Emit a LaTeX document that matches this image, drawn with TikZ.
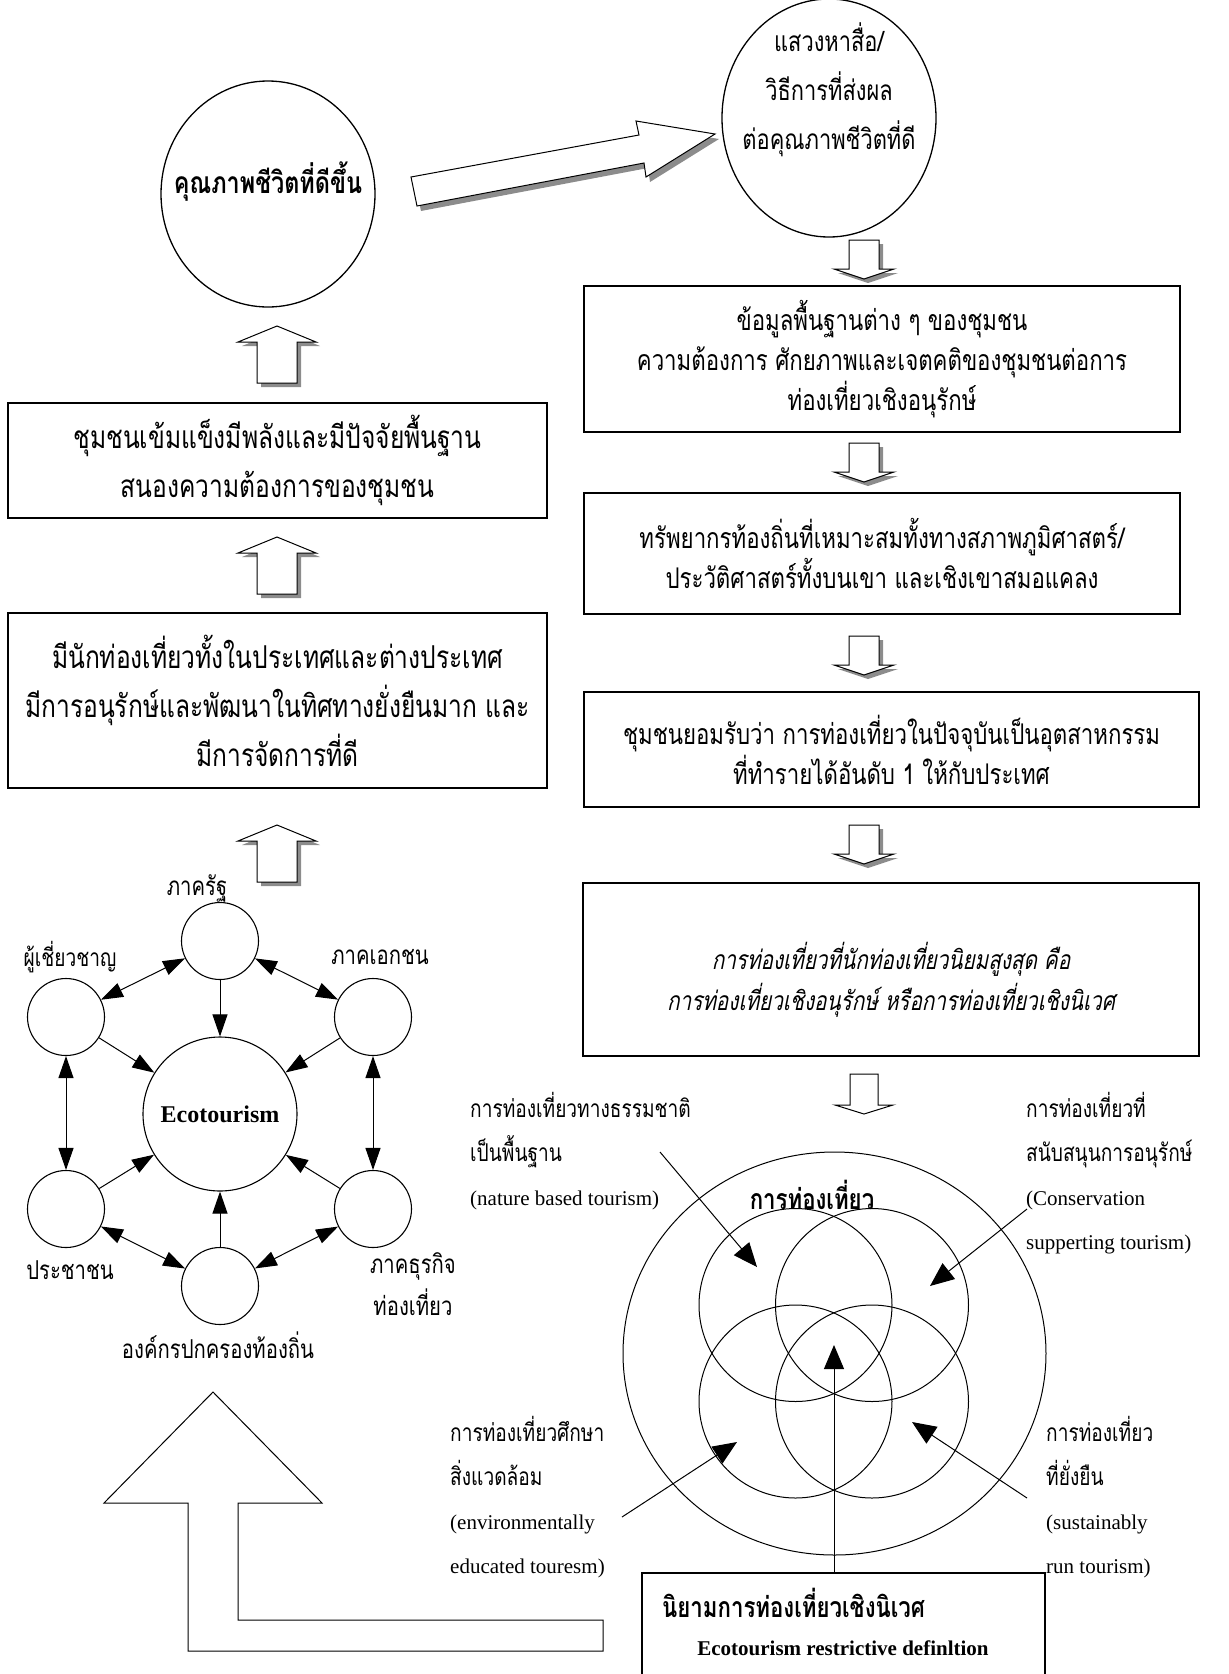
\documentclass[tikz,border=0pt]{standalone}
\usepackage{fontspec}
\setmainfont{Liberation Serif}
\newfontfamily\thaifont[Script=Thai,FakeStretch=0.78,AutoFakeSlant=0.2]{Loma}
\usetikzlibrary{arrows.meta,shapes.geometric}

\tikzset{
  shade/.style={fill=black!45},
  dnarrow/.pic={
    \fill[shade,shift={(4,4)}] (-15,0) -- (15,0) -- (15,29) -- (30,29) -- (0,39) -- (-30,29) -- (-15,29) -- cycle;
    \draw[fill=white,line width=1pt] (-15,0) -- (15,0) -- (15,29) -- (30,29) -- (0,39) -- (-30,29) -- (-15,29) -- cycle;
  },
  dnplain/.pic={
    \draw[fill=white,line width=1pt] (-14,0) -- (14,0) -- (14,31) -- (29,31) -- (0,40) -- (-29,31) -- (-14,31) -- cycle;
  },
  uparrow/.pic={
    \fill[shade,shift={(4,4)}] (0,0) -- (39,16) -- (20,16) -- (20,57) -- (-20,57) -- (-20,16) -- (-39,16) -- cycle;
    \draw[fill=white,line width=1pt] (0,0) -- (39,16) -- (20,16) -- (20,57) -- (-20,57) -- (-20,16) -- (-39,16) -- cycle;
  }
}

\begin{document}
\begin{tikzpicture}[x=1pt,y=-1pt,
  box/.style={draw,line width=1.3pt,inner sep=0pt},
  round/.style={draw,line width=1.3pt,ellipse,inner sep=0pt},
  hex/.style={draw,line width=1.1pt,circle,minimum size=77pt,inner sep=0pt},
  venn/.style={draw,line width=1pt,circle,minimum size=193pt,inner sep=0pt},
  thtext/.style={font=\thaifont\fontsize{28.5}{40}\selectfont,align=center},
  thsmall/.style={font=\thaifont\fontsize{26}{40}\selectfont,align=center},
  thlarge/.style={font=\thaifont\fontsize{31.5}{49}\selectfont,align=center},
  thbold/.style={font=\thaifont\bfseries\fontsize{28.5}{40}\selectfont},
  entext/.style={font=\fontsize{21}{44}\selectfont,align=left,anchor=west,inner sep=0pt},
  one/.style={line width=1pt,-{Triangle[length=22pt,width=15pt]}},
  both/.style={line width=1pt,{Triangle[length=22pt,width=15pt]}-{Triangle[length=22pt,width=15pt]}},
  bigtip/.style={line width=1pt,-{Triangle[length=24pt,width=20pt]}}]
\useasboundingbox (0,0) rectangle (1229,1674);

% top row
\node[round,minimum width=214pt,minimum height=226pt] (quality) at (268,194) {};
\node[font=\thaifont\bfseries\fontsize{30}{49}\selectfont] (qualitytext) at (268,182) {คุณภาพชีวิตที่ดีขึ้น};
\node[round,minimum width=214pt,minimum height=238pt] (media) at (829,118) {};
\node[font=\thaifont\fontsize{28}{49}\selectfont,align=center] (mediatext) at (829,90) {แสวงหาสื่อ/\\วิธีการที่ส่งผล\\ต่อคุณภาพชีวิตที่ดี};

\fill[shade,shift={(4,5)}] (411,177) -- (639,135) -- (636,121) -- (715,134) -- (646,177) -- (644,163) -- (417,206) -- cycle;
\draw[fill=white,line width=1pt] (411,177) -- (639,135) -- (636,121) -- (715,134) -- (646,177) -- (644,163) -- (417,206) -- cycle;

% right column
\pic at (864,240) {dnarrow};
\node[box,thtext,minimum width=596pt,minimum height=146pt] (data) at (882,359)
  {ข้อมูลพื้นฐานต่าง ๆ ของชุมชน\\ความต้องการ ศักยภาพและเจตคติของชุมชนต่อการ\\ท่องเที่ยวเชิงอนุรักษ์};
\pic at (864,443) {dnarrow};
\node[box,thtext,minimum width=596pt,minimum height=121pt] (resource) at (882,553.5)
  {ทรัพยากรท้องถิ่นที่เหมาะสมทั้งทางสภาพภูมิศาสตร์/\\ประวัติศาสตร์ทั้งบนเขา และเชิงเขาสมอแคลง};
\pic at (864,636) {dnarrow};
\node[box,thtext,minimum width=615pt,minimum height=115pt] (industry) at (891.5,749.5)
  {ชุมชนยอมรับว่า การท่องเที่ยวในปัจจุบันเป็นอุตสาหกรรม\\ที่ทำรายได้อันดับ 1 ให้กับประเทศ};
\pic at (864,825) {dnarrow};
\node[box,minimum width=616pt,minimum height=173pt] (popular) at (891,969.5) {};
\node[font=\thaifont\itshape\fontsize{26.5}{41}\selectfont,align=center] (populartext) at (891,980)
  {การท่องเที่ยวที่นักท่องเที่ยวนิยมสูงสุด คือ\\การท่องเที่ยวเชิงอนุรักษ์ หรือการท่องเที่ยวเชิงนิเวศ};
\pic at (864,1074) {dnplain};

% left column
\pic at (277,326) {uparrow};
\node[box,thlarge,minimum width=539pt,minimum height=115pt] (strong) at (277.5,460.5)
  {ชุมชนเข้มแข็งมีพลังและมีปัจจัยพื้นฐาน\\สนองความต้องการของชุมชน};
\pic at (277,537) {uparrow};
\node[box,thlarge,minimum width=539pt,minimum height=175pt] (tourists) at (277.5,700.5)
  {มีนักท่องเที่ยวทั้งในประเทศและต่างประเทศ\\มีการอนุรักษ์และพัฒนาในทิศทางยั่งยืนมาก และ\\มีการจัดการที่ดี};
\pic at (277,825) {uparrow};

% partners
\node[hex] (state) at (220,941) {};
\node[hex] (expert) at (66,1017) {};
\node[hex] (private) at (373,1017) {};
\node[hex] (people) at (66,1209) {};
\node[hex] (business) at (373,1209) {};
\node[hex] (local) at (220,1286) {};
\node[draw,line width=1.1pt,circle,minimum size=154pt,inner sep=0pt,font=\bfseries\fontsize{24}{28}\selectfont] (eco) at (220,1114) {\raisebox{-9pt}{Ecotourism}};

\node[thsmall] (statelbl) at (197,888) {ภาครัฐ};
\node[thsmall,font=\thaifont\fontsize{24.5}{40}\selectfont] (expertlbl) at (70,957) {ผู้เชี่ยวชาญ};
\node[thsmall] (privatelbl) at (380,957) {ภาคเอกชน};
\node[thsmall] (peoplelbl) at (70,1270) {ประชาชน};
\node[thsmall,font=\thaifont\fontsize{26}{42}\selectfont] (businesslbl) at (413,1284) {ภาคธุรกิจ\\ท่องเที่ยว};
\node[thsmall] (locallbl) at (218,1345) {องค์กรปกครองท้องถิ่น};

\draw[one] (state) -- (eco);
\draw[one] (local) -- (eco);
\draw[one] (expert) -- (eco);
\draw[one] (private) -- (eco);
\draw[one] (people) -- (eco);
\draw[one] (business) -- (eco);
\draw[both] (state) -- (expert);
\draw[both] (state) -- (private);
\draw[both] (expert) -- (people);
\draw[both] (private) -- (business);
\draw[both] (people) -- (local);
\draw[both] (business) -- (local);

% kinds of tourism
\node[draw,line width=1pt,ellipse,minimum width=423pt,minimum height=403pt,inner sep=0pt] (tourism) at (834.5,1353.5) {};
\node[venn] (nature) at (795.5,1305) {};
\node[venn] (conserve) at (872,1305) {};
\node[venn] (educate) at (795.5,1401.5) {};
\node[venn] (sustain) at (872,1401.5) {};
\node[thbold] (tourismlbl) at (812,1195) {การท่องเที่ยว};

\node[entext] (naturelbl) at (470,1151.5)
  {{\thaifont\fontsize{24.5}{44}\selectfont การท่องเที่ยวทางธรรมชาติ}\\{\thaifont\fontsize{24.5}{44}\selectfont เป็นพื้นฐาน}\\(nature based tourism)};
\node[entext] (conservelbl) at (1026,1173)
  {{\thaifont\fontsize{24.5}{44}\selectfont การท่องเที่ยวที่}\\{\thaifont\fontsize{24.5}{44}\selectfont สนับสนุนการอนุรักษ์}\\(Conservation\\supperting tourism)};
\node[entext] (educatelbl) at (450,1497)
  {{\thaifont\fontsize{24.5}{44}\selectfont การท่องเที่ยวศึกษา}\\{\thaifont\fontsize{24.5}{44}\selectfont สิ่งแวดล้อม}\\(environmentally\\educated touresm)};
\node[entext] (sustainlbl) at (1046,1497)
  {{\thaifont\fontsize{24.5}{44}\selectfont การท่องเที่ยว}\\{\thaifont\fontsize{24.5}{44}\selectfont ที่ยั่งยืน}\\(sustainably\\run tourism)};

\coordinate (natfrom) at (660,1152);
\coordinate (natto) at (757,1267);
\coordinate (consfrom) at (1027,1209);
\coordinate (consto) at (930,1286);
\coordinate (edufrom) at (622,1517);
\coordinate (eduto) at (737,1442);
\coordinate (susfrom) at (1027,1498);
\coordinate (susto) at (912,1422);
\coordinate (core) at (834,1345);
\draw[bigtip] (natfrom) -- (natto);
\draw[bigtip] (consfrom) -- (consto);
\draw[bigtip] (edufrom) -- (eduto);
\draw[bigtip] (susfrom) -- (susto);

% definition box
\node[box,line width=1.2pt,minimum width=403pt,minimum height=110pt] (definition) at (843.5,1628) {};
\node[thbold,anchor=west,inner sep=0pt] (deftitle) at (662,1603) {นิยามการท่องเที่ยวเชิงนิเวศ};
\node[font=\bfseries\fontsize{21}{25}\selectfont] (defen) at (843,1648) {Ecotourism restrictive definltion};
\draw[bigtip] (definition.north -| core) -- (core);

% back to the partners
\draw[line width=1pt] (603,1620) -- (238,1620) -- (238,1503) -- (322,1503) -- (213,1392)
  -- (104,1503) -- (188,1503) -- (188,1651) -- (603,1651) -- cycle;
\end{tikzpicture}
\end{document}
